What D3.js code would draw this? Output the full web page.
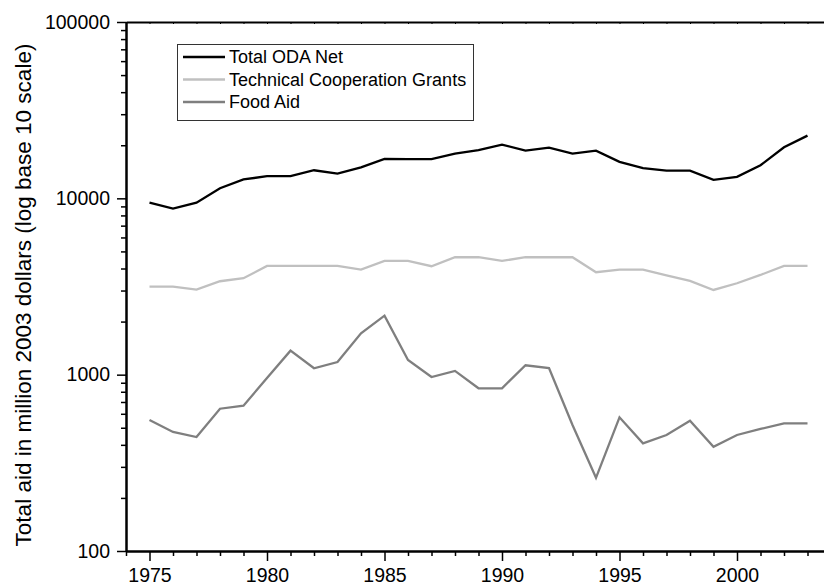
<!DOCTYPE html>
<html>
<head>
<meta charset="utf-8">
<script src="https://cdn.jsdelivr.net/npm/d3@7"></script>
<style>
  html, body { margin: 0; padding: 0; background: #fff; overflow: hidden; }
  svg { display: block; font-family: "Liberation Sans", Arial, sans-serif; }
</style>
</head>
<body>
<svg id="chart" width="824" height="585"></svg>
<script>
// Aid flows, million 2003 dollars
const years = d3.range(1975, 2004);
const totalODA = [9450, 8740, 9450, 11400, 12800, 13350, 13350, 14430, 13800, 14970,
  16730, 16700, 16700, 17940, 18750, 20170, 18650, 19400, 17940, 18650,
  16090, 14820, 14360, 14360, 12720, 13230, 15400, 19490, 22680];
const techCoop = [3157, 3157, 3035, 3387, 3523, 4137, 4137, 4137, 4137, 3942,
  4415, 4415, 4120, 4634, 4634, 4415, 4634, 4634, 4634, 3810,
  3942, 3942, 3662, 3400, 3023, 3299, 3677, 4137, 4137];
const foodAid = [553, 473, 443, 641, 667, 958, 1368, 1087, 1180, 1717,
  2161, 1212, 970, 1050, 837, 837, 1131, 1091, 518, 260,
  573, 408, 455, 548, 390, 455, 492, 530, 530];

const seriesNames = ["Total ODA Net", "Technical Cooperation Grants", "Food Aid"];
const seriesColors = ["#000000", "#c0c0c0", "#7f7f7f"];
const seriesWidths = [2.3, 2.3, 2.3];
const seriesValues = [totalODA, techCoop, foodAid];

const xTickLabels = [1975, 1980, 1985, 1990, 1995, 2000];
const yTickLabels = [100, 1000, 10000, 100000];

const svg = d3.select("#chart");
const plotLeft = 126, plotTop = 22, plotBottom = 551;

const x = d3.scaleLinear().domain([1974, 2004]).range([plotLeft, plotLeft + 30 * 23.5]);
const y = d3.scaleLog().domain([100, 100000]).range([plotBottom, plotTop]);

// minor log ticks: 2..9 in each decade
const yMinor = [];
[100, 1000, 10000].forEach(d => { for (let k = 2; k <= 9; k++) yMinor.push(d * k); });

// left axis
const yAxisMajor = d3.axisLeft(y).tickValues(yTickLabels).tickFormat(d3.format("d"))
  .tickSizeInner(9).tickSizeOuter(0).tickPadding(7);
const yAxisMinor = d3.axisLeft(y).tickValues(yMinor).tickFormat("")
  .tickSizeInner(5).tickSizeOuter(0);

const gyMinor = svg.append("g").attr("transform", `translate(${plotLeft},0)`).call(yAxisMinor);
const gy = svg.append("g").attr("transform", `translate(${plotLeft},0)`).call(yAxisMajor);

// bottom axis: labelled ticks every 5 years, short ticks every year
const xAllYears = d3.range(1974, 2005);
const xAxisMajor = d3.axisBottom(x).tickValues(xTickLabels).tickFormat(d3.format("d"))
  .tickSizeInner(10).tickSizeOuter(0).tickPadding(7);
const xAxisMinor = d3.axisBottom(x).tickValues(xAllYears.filter(v => v % 5 !== 0)).tickFormat("")
  .tickSizeInner(5).tickSizeOuter(0);
const gxMinor = svg.append("g").attr("transform", `translate(0,${plotBottom})`).call(xAxisMinor);
const gx = svg.append("g").attr("transform", `translate(0,${plotBottom})`).call(xAxisMajor);

// top frame with small inward ticks
const xAxisTop = d3.axisTop(x).tickValues(xAllYears).tickFormat("")
  .tickSizeInner(-2).tickSizeOuter(0);
const gTop = svg.append("g").attr("transform", `translate(0,${plotTop})`).call(xAxisTop);

[gy, gyMinor, gx, gxMinor, gTop].forEach(g => {
  g.select(".domain").attr("stroke", "#000").attr("stroke-width", 2);
  g.selectAll(".tick line").attr("stroke", "#000").attr("stroke-width", 1.5);
  g.selectAll(".tick text").attr("fill", "#000").attr("font-size", 19.5)
    .attr("font-family", "'Liberation Sans', Arial, sans-serif");
});
gTop.selectAll(".tick line").attr("stroke-width", 1);

// series lines
const line = d3.line().x((d, i) => x(years[i])).y(d => y(d));
seriesValues.forEach((vals, i) => {
  svg.append("path").datum(vals)
    .attr("fill", "none")
    .attr("stroke", seriesColors[i])
    .attr("stroke-width", seriesWidths[i])
    .attr("stroke-linejoin", "miter")
    .attr("d", line);
});

// y-axis title
svg.append("text")
  .attr("transform", `translate(31,295) rotate(-90)`)
  .attr("text-anchor", "middle")
  .attr("font-size", 22.5)
  .attr("fill", "#000")
  .text("Total aid in million 2003 dollars (log base 10 scale)");

// legend
const lg = svg.append("g");
lg.append("rect").attr("x", 177.5).attr("y", 44.5).attr("width", 296).attr("height", 76)
  .attr("fill", "#fff").attr("stroke", "#333").attr("stroke-width", 1);
seriesNames.forEach((name, i) => {
  const cy = 57 + i * 22.5;
  lg.append("line").attr("x1", 183).attr("x2", 225).attr("y1", cy).attr("y2", cy)
    .attr("stroke", seriesColors[i]).attr("stroke-width", 2.3);
  lg.append("text").attr("x", 229).attr("y", cy).attr("dy", "0.35em")
    .attr("font-size", 18).attr("fill", "#000").text(name);
});
</script>
</body>
</html>
